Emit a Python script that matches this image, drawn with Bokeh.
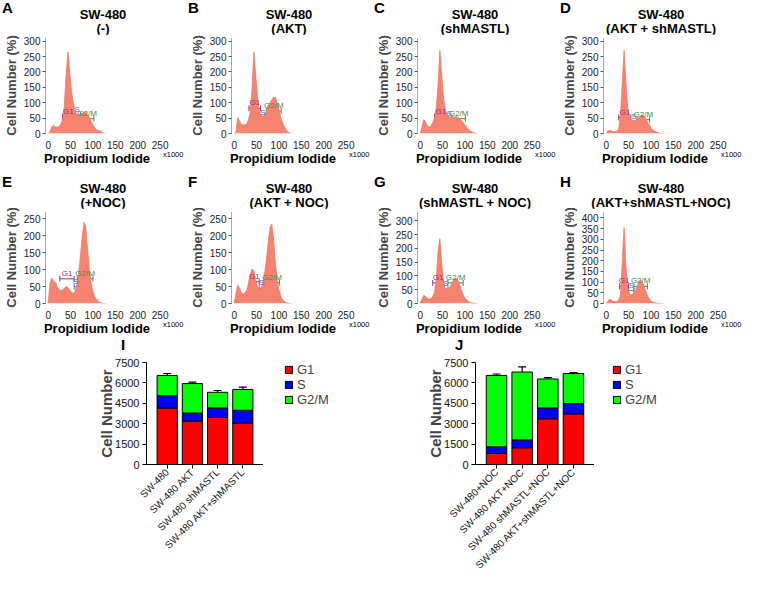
import math
from bokeh.plotting import figure
from bokeh.layouts import column, row
from bokeh.models import (Range1d, FactorRange, Legend, LegendItem, Whisker, Div,
                          TeeHead, ColumnDataSource, SingleIntervalTicker)
from bokeh.core.properties import value
from bokeh.embed import file_html
from bokeh.resources import INLINE

FONT = "Liberation Sans"
FILL = "#F58370"

# ---------------- histogram data (PI x1000 bins, cell number %) ----------------
bins = [0, 4, 8, 12, 16, 20, 24, 28, 32, 36, 40, 44, 48, 52, 56, 60, 64, 68, 72, 76,
        80, 84, 88, 92, 96, 100, 104, 108, 112, 116, 120, 124, 128]
hist_A = [0, 5, 22, 25, 22, 20, 22, 30, 45, 90, 190, 265, 200, 140, 100, 75, 62, 58, 60, 65,
          70, 68, 62, 52, 40, 28, 18, 12, 10, 8, 4, 1, 0]
hist_B = [0, 5, 52, 40, 30, 28, 28, 32, 45, 70, 150, 265, 190, 120, 75, 58, 55, 62, 75, 90,
          100, 110, 118, 118, 100, 78, 52, 35, 22, 12, 5, 1, 0]
hist_C = [0, 20, 45, 38, 25, 20, 24, 35, 50, 85, 160, 270, 190, 115, 80, 62, 55, 52, 52, 54,
          55, 53, 48, 42, 35, 28, 20, 14, 8, 5, 2, 1, 0]
hist_D = [0, 8, 10, 8, 6, 6, 8, 15, 60, 170, 270, 170, 85, 55, 45, 42, 42, 45, 50, 56,
          60, 58, 50, 38, 28, 18, 12, 8, 5, 3, 1, 0, 0]
hist_E = [0, 60, 75, 65, 62, 50, 42, 38, 40, 45, 50, 48, 40, 33, 30, 35, 55, 90, 140, 200,
          240, 225, 160, 100, 60, 35, 20, 12, 6, 3, 1, 0, 0]
hist_F = [0, 30, 55, 45, 32, 28, 30, 40, 60, 85, 102, 95, 70, 50, 42, 45, 60, 90, 130, 180,
          225, 235, 190, 120, 70, 40, 22, 12, 6, 3, 1, 0, 0]
hist_G = [0, 15, 30, 25, 18, 16, 18, 25, 40, 90, 190, 235, 150, 80, 55, 50, 55, 65, 78, 88,
          92, 85, 68, 48, 32, 20, 12, 7, 4, 2, 1, 0, 0]
hist_H = [0, 10, 20, 15, 10, 8, 10, 15, 40, 200, 355, 180, 70, 45, 40, 45, 55, 75, 95, 108,
          105, 85, 60, 38, 22, 12, 7, 4, 2, 1, 0, 0, 0]

# gates: (start, end, level) for G1, S, G2/M
gate_names = ["G1", "S", "G2/M"]
gate_colors = ["#9a2f7c", "#4a6fd0", "#3f8a4a"]
gates_A = [(32, 58, 55), (58, 72, 60), (72, 102, 48)]
gates_B = [(33, 59, 82), (60, 68, 52), (72, 105, 73)]
gates_C = [(32, 60, 55), (60, 71, 48), (71, 101, 48)]
gates_D = [(28, 55, 52), (55, 69, 37), (69, 97, 45)]
gates_E = [(26, 58, 73), (58, 65, 50), (65, 100, 73)]
gates_F = [(34, 56, 64), (56, 68, 45), (68, 101, 62)]
gates_G = [(28, 52, 75), (52, 62, 52), (62, 96, 75)]
gates_H = [(30, 50, 80), (50, 62, 60), (62, 92, 80)]

# ---------------- bar chart data ----------------
phases = ["G1", "S", "G2/M"]
phase_colors = ["#FF0000", "#0000FF", "#00FF00"]

cats_I = ["SW-480", "SW-480 AKT", "SW-480 shMASTL", "SW-480 AKT+shMASTL"]
g1_I = [4150, 3190, 3460, 3040]
s_I = [910, 590, 700, 950]
g2m_I = [1490, 2170, 1150, 1530]
g1_err_I = [100, 60, 210, 100]
s_err_I = [240, 100, 190, 60]
g2m_err_I = [140, 100, 130, 170]

cats_J = ["SW-480+NOC", "SW-480 AKT+NOC", "SW-480 shMASTL+NOC", "SW-480 AKT+shMASTL+NOC"]
g1_J = [810, 1230, 3360, 3720]
s_J = [490, 580, 800, 760]
g2m_J = [5250, 4990, 2130, 2210]
g1_err_J = [255, 280, 210, 450]
s_err_J = [105, 65, 105, 150]
g2m_err_J = [105, 380, 105, 60]

PANEL_W = 186
BL, BR, BT, BB = 41, 21, 3, 16
FRAME_CX = BL + (PANEL_W - BL - BR) / 2


def style_common(p):
    p.outline_line_color = None
    p.xgrid.visible = False
    p.ygrid.visible = False
    p.background_fill_color = "white"
    p.border_fill_color = "white"


def span(x, yc, text, size, bold=True, align="left"):
    weight = "bold" if bold else "normal"
    common = (f"position:absolute;top:{yc - size / 2:.1f}px;font-size:{size}px;"
              f"line-height:{size}px;font-weight:{weight};white-space:nowrap;")
    if align == "center":
        return (f'<div style="{common}left:{x - 120}px;width:240px;text-align:center">'
                f"{text}</div>")
    return f'<div style="{common}left:{x}px">{text}</div>'


def text_div(width, height, parts):
    html = (f'<div style="position:relative;width:{width}px;height:{height}px;'
            f"font-family:'{FONT}',Arial,sans-serif;color:#000;overflow:visible\">"
            + "".join(parts) + "</div>")
    return Div(text=html, width=width, height=height, margin=(0, 0, 0, 0))


def hist_panel(letter, t1, t2, vals, gates, ytop, height, head):
    foot = 15
    hdr = text_div(PANEL_W, head, [
        span(2, head + BT - 30, letter, 15),
        span(FRAME_CX, head + BT - 23, t1, 13, align="center"),
        span(FRAME_CX, head + BT - 9, t2, 13, align="center"),
    ])

    ph = height - head - foot
    p = figure(width=PANEL_W, height=ph, x_range=Range1d(-6, 262),
               y_range=Range1d(0, ytop), output_backend="svg", toolbar_location=None,
               min_border_left=BL, min_border_right=BR, min_border_top=BT,
               min_border_bottom=BB)
    style_common(p)
    p.varea(x=bins, y1=[0] * len(bins), y2=vals, fill_color=FILL, fill_alpha=1.0)
    p.line(bins, vals, line_color="#EE7A66", line_width=0.8)

    for (g0, g1, lev), name, col in zip(gates, gate_names, gate_colors):
        src = ColumnDataSource(dict(base=[lev], lo=[g0], hi=[g1]))
        w = Whisker(base="base", lower="lo", upper="hi", dimension="width", source=src,
                    line_color=col, line_width=1,
                    upper_head=TeeHead(size=6, line_color=col, line_width=1),
                    lower_head=TeeHead(size=6, line_color=col, line_width=1))
        p.add_layout(w)
        p.text(x=[(g0 + g1) / 2], y=[lev], text=[name], text_font=value(FONT),
               text_font_size="8px", text_align="center", text_baseline="bottom",
               text_color=col, y_offset=-1)

    xa = p.xaxis[0]
    xa.ticker = SingleIntervalTicker(interval=50)
    xa.axis_line_color = None
    xa.major_tick_line_color = None
    xa.minor_tick_line_color = None
    xa.major_tick_out = 0
    xa.major_label_standoff = 3
    xa.major_label_text_font = FONT
    xa.major_label_text_font_size = "10px"
    xa.major_label_text_color = "#222222"

    ya = p.yaxis[0]
    ya.ticker = SingleIntervalTicker(interval=50)
    ya.axis_line_color = "#555555"
    ya.axis_line_dash = "1 1"
    ya.major_tick_line_color = "#555555"
    ya.minor_tick_line_color = None
    ya.major_tick_out = 3
    ya.major_tick_in = 0
    ya.major_label_standoff = 1
    ya.major_label_text_font = FONT
    ya.major_label_text_font_size = "10px"
    ya.major_label_text_color = "#222222"
    ya.axis_label = "Cell Number (%)"
    ya.axis_label_text_font = FONT
    ya.axis_label_text_font_style = "bold"
    ya.axis_label_text_font_size = "13px"
    ya.axis_label_standoff = 2

    ftr = text_div(PANEL_W, foot, [
        span(FRAME_CX - 6, 7, "Propidium Iodide", 13, align="center"),
        span(163, 4, "x1000", 7.5, bold=False),
    ])
    return column(hdr, p, ftr, spacing=0)


def bar_panel(letter, cats, g1, s, g2m, e1, e2, e3, left, frame_w, letter_x, legend_gap):
    W, H, HEAD, TOP, BOT = 372, 261, 14, 12, 133
    hdr = text_div(W, HEAD, [span(letter_x, 8, letter, 15)])
    bw = left + frame_w

    p = figure(width=bw, height=H - HEAD, x_range=FactorRange(*cats, range_padding=0.16),
               y_range=Range1d(0, 7500), output_backend="svg", toolbar_location=None,
               min_border_left=left, min_border_right=0, min_border_top=TOP,
               min_border_bottom=BOT)
    style_common(p)
    t1 = list(g1)
    t2 = [a + b for a, b in zip(g1, s)]
    t3 = [a + b for a, b in zip(t2, g2m)]
    src = ColumnDataSource(dict(x=cats, b0=[0] * len(cats), t1=t1, t2=t2, t3=t3,
                                h1=[a + b for a, b in zip(t1, e1)],
                                h2=[a + b for a, b in zip(t2, e2)],
                                h3=[a + b for a, b in zip(t3, e3)]))
    for (lo, hi), col in zip((("b0", "t1"), ("t1", "t2"), ("t2", "t3")), phase_colors):
        p.vbar(x="x", bottom=lo, top=hi, width=0.8, source=src,
               fill_color=col, line_color="black", line_width=1)
    for lo, hi in (("t1", "h1"), ("t2", "h2"), ("t3", "h3")):
        p.add_layout(Whisker(base="x", lower=lo, upper=hi, source=src, dimension="height",
                             line_color="black", line_width=1.2,
                             upper_head=TeeHead(size=8, line_color="black", line_width=1.2),
                             lower_head=None))

    ya = p.yaxis[0]
    ya.ticker = SingleIntervalTicker(interval=1500)
    ya.axis_line_color = "black"
    ya.major_tick_line_color = "black"
    ya.minor_tick_line_color = None
    ya.major_tick_out = 4
    ya.major_tick_in = 0
    ya.major_label_standoff = 3
    ya.major_label_text_font = FONT
    ya.major_label_text_font_size = "11px"
    ya.major_label_text_color = "#111111"
    ya.axis_label = "Cell Number"
    ya.axis_label_text_font = FONT
    ya.axis_label_text_font_style = "bold"
    ya.axis_label_text_font_size = "15px"
    ya.axis_label_standoff = -3

    xa = p.xaxis[0]
    xa.axis_line_color = "black"
    xa.major_tick_line_color = "black"
    xa.major_tick_out = 4
    xa.major_tick_in = 0
    xa.major_label_orientation = math.pi / 4
    xa.major_label_standoff = 2
    xa.major_label_text_font = FONT
    xa.major_label_text_font_size = "10px"
    xa.major_label_text_color = "#111111"

    # legend box to the right of the bars (proxy renderers hold no visible marks)
    lw = W - bw
    lg = figure(width=lw, height=H - HEAD, x_range=Range1d(0, 1), y_range=Range1d(0, 1),
                output_backend="svg", toolbar_location=None, min_border_left=legend_gap,
                min_border_right=0, min_border_top=TOP, min_border_bottom=BOT,
                x_axis_location=None, y_axis_location=None)
    style_common(lg)
    items = []
    for name, col in zip(phases, phase_colors):
        proxy = ColumnDataSource(dict(x=[float("nan")], top=[float("nan")]))
        r = lg.vbar(x="x", top="top", width=0.5, source=proxy, fill_color=col,
                    line_color="black", line_width=1)
        items.append(LegendItem(label=name, renderers=[r]))
    legend = Legend(items=items, location="top_left",
                    label_text_font=FONT, label_text_font_size="13px",
                    glyph_width=9, glyph_height=9, label_height=13, spacing=0,
                    padding=0, margin=0, label_standoff=4,
                    border_line_color=None, background_fill_alpha=0)
    lg.add_layout(legend)
    return column(hdr, row(p, lg, spacing=0), spacing=0)


pA = hist_panel("A", "SW-480", "(-)", hist_A, gates_A, 312, 166, 34)
pB = hist_panel("B", "SW-480", "(AKT)", hist_B, gates_B, 312, 166, 34)
pC = hist_panel("C", "SW-480", "(shMASTL)", hist_C, gates_C, 312, 166, 34)
pD = hist_panel("D", "SW-480", "(AKT + shMASTL)", hist_D, gates_D, 312, 166, 34)
pE = hist_panel("E", "SW-480", "(+NOC)", hist_E, gates_E, 272, 170, 42)
pF = hist_panel("F", "SW-480", "(AKT + NOC)", hist_F, gates_F, 272, 170, 42)
pG = hist_panel("G", "SW-480", "(shMASTL + NOC)", hist_G, gates_G, 334, 170, 42)
pH = hist_panel("H", "SW-480", "(AKT+shMASTL+NOC)", hist_H, gates_H, 430, 170, 42)

pI = bar_panel("I", cats_I, g1_I, s_I, g2m_I, g1_err_I, s_err_I, g2m_err_I,
               146, 117, 121, 21)
pJ = bar_panel("J", cats_J, g1_J, s_J, g2m_J, g1_err_J, s_err_J, g2m_err_J,
               103, 119, 83, 18)

layout = column(row(pA, pB, pC, pD, spacing=0), row(pE, pF, pG, pH, spacing=0),
                row(pI, pJ, spacing=0), spacing=0)
open("out.html", "w").write(file_html(layout, INLINE))
